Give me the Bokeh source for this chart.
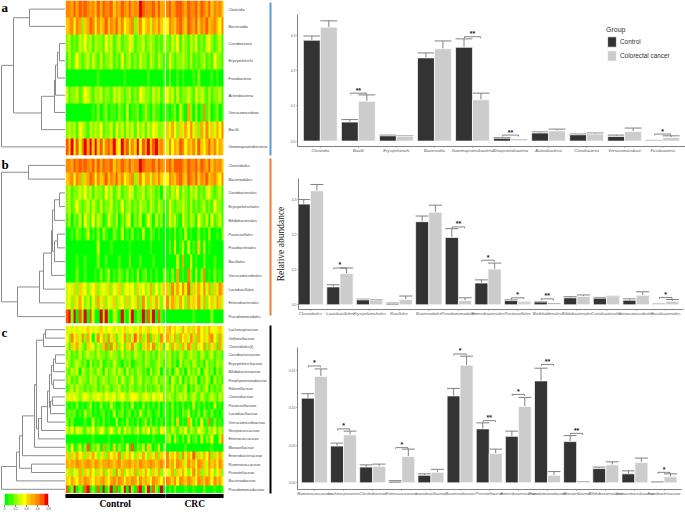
from bokeh.plotting import figure
from bokeh.layouts import row, column
from bokeh.models import Range1d, FixedTicker, Label, LinearColorMapper, Legend, LegendItem
from bokeh.core.properties import value
from bokeh.embed import file_html
from bokeh.resources import INLINE
import numpy as np

# ---------- heat map data (cell levels 0-9, Control | CRC) ----------
class_rows = ["Clostridia","Bacteroidia","Coriobacteria","Erysipelotrichi","Fusobacteria","Actinobacteria","Verrucomicrobiae","Bacilli","Gammaproteobacteria"]
class_heat = [
"7768687876 7586877857 6876867698 77786866 | 7867887687 7868768576 75",
"5674762568 7475685768 5745672574 56365754 | 4765786587 6857685675 47",
"2312132423 1322142312 3122431223 12321213 | 2132413213 2412134212 31",
"1312421231 3213122312 1412312132 21321321 | 1421223213 1212312142 21",
"0000000000 0010000000 0010000000 01000001 | 0200101000 1020000101 00",
"3122312432 1323122132 3212312143 22132312 | 4231312232 1423213122 31",
"0000000000 1020120110 2103011201 31021101 | 1012031062 0301713012 01",
"2323143213 2324122314 2313231423 13243223 | 5364253647 3526473536 47",
"8594837969 5958378695 4968375948 69589675 | 3746587465 7385468574 65",
]
order_rows = ["Clostridiales","Bacteroidales","Coriobacteriales","Erysipelotrichales","Bifidobacteriales","Pasteurellales","Fusobacteriales","Bacillales","Verrucomicrobiales","Lactobacillales","Enterobacteriales","Pseudomonadales"]
order_heat = [
"7768787876 8586877857 6876867798 77786876 | 7868887687 7868768576 75",
"5674762568 7475685768 5745672574 66365754 | 4765786587 6857685675 47",
"2312232423 1322142312 3122431223 12321203 | 2132413213 2412134212 31",
"2312421231 3213122312 1412312132 21321321 | 1421223213 1212312142 21",
"1302130421 4132014213 0213402130 14203120 | 1423104213 2042130412 31",
"0010210130 1020310021 0301020103 00210100 | 0102010301 0020103001 02",
"0000000000 0030000100 0000100000 00100000 | 0204013030 1050301000 00",
"0000100100 0020010000 1000200010 00010000 | 0000306004 0100200010 00",
"0000200100 0102013010 2102010301 20101002 | 1020601072 0302701020 10",
"3435253423 4523435243 5234342534 23624235 | 5273647382 5364736253 75",
"3425364231 4263524352 3425243627 42536324 | 7365364263 5473624536 53",
"8929082908 3009291032 0910390219 08290810 | 0000000000 1000000200 00",
]
family_rows = ["Lachnospiraceae","Veillonellaceae","Clostridiales(t)","Coriobacteriaceae","Erysipelotrichaceae","Bifidobacteriaceae","Porphyromonadaceae","Rikenellaceae","Clostridiaceae","Pasteurellaceae","Lactobacillaceae","Verrucomicrobiaceae","Streptococcaceae","Enterococcaceae","Moraxellaceae","Enterobacteriaceae","Ruminococcaceae","Prevotellaceae","Bacteroidaceae","Pseudomonadaceae"]
family_heat = [
"3434343454 3435434434 3453443454 35344543 | 5645436453 5464536443 54",
"4274537264 0374627351 3472638462 37153274 | 6536264537 5264536742 63",
"3153632153 4132571736 2415373215 36472351 | 4263526375 2634726351 63",
"2312131232 2132212322 1312213221 32121322 | 2312132123 2213212312 21",
"3212321203 1213012132 1021301221 32112321 | 2312031221 3212031213 22",
"2132303213 2132031231 3203121321 20312302 | 1302312031 2130231203 12",
"2312132213 2312321223 1321231231 22123122 | 2032130213 2302132031 21",
"1231322121 2312132122 3121321221 31212312 | 2131212302 1321230212 13",
"3434323432 3343243342 3432344323 43243342 | 2321232312 3213212321 32",
"1010201013 0102010310 0201030102 01010201 | 1020102010 3010201030 10",
"1212010312 0101201030 1201201031 02101201 | 1020102130 1020310201 01",
"2020000100 3010201003 0102010201 30201010 | 1020501063 0204017020 10",
"3241432132 4124312421 3142312413 24132143 | 2132132413 2143213241 32",
"0000000000 1000001000 0100000100 00010000 | 2303102030 1203021400 37",
"2040130280 2130612050 2104080213 05201302 | 0000000100 0000000100 00",
"5253645253 6423526453 7253642536 42536254 | 7354627364 8253647253 63",
"6565765676 5765667656 7566756576 56765675 | 7564765375 6476537564 75",
"3524362536 4253624527 3624536253 64253624 | 4362536424 7362536424 52",
"5465465765 4656754675 7646576475 65476546 | 7657476576 5476576475 64",
"8029020890 2080902908 0390920890 39082090 | 0102000100 1000200010 01",
]
heat_palette = ["#00ff00","#44ff00","#88ff00","#ccff00","#ffff00","#ffcc00","#ffa800","#ff8800","#ff5a00","#ee0000"]
colorbar_ticks = [0, 0.2, 0.4, 0.6, 0.8]
group_names = ["Control", "CRC"]

# ---------- dendrograms: (merge height, child, child), leaves are row indices ----------
class_tree = (64,(52,(36,0,1),(24,(11,(10,(8,(6,2,3),4),5),6),7)),8)
order_tree = (64,(37,0,1),(48,(26,(22,(14,(13,(11,(6,2,3),4),(11,(8,5,6),7)),8),9),10),11))
family_tree = (64,(49,(46,(43,(31,(29,(22,(20,0,1),2),(27,(24,(18,(16,(14,(12,(10,3,4),5),(12,6,7)),(15,(13,8,9),10)),11),12),13)),14),15),(34,16,17)),18),19)

# ---------- bar data ----------
class_names = ["Clostridia","Bacilli","Erysipelotrichi","Bacteroidia","Gammaproteobacteria","Betaproteobacteria","Actinobacteria","Coriobacteria","Verrucomicrobiae","Fusobacteria"]
class_ctrl = [.286,.054,.015,.236,.266,.008,.023,.018,.013,.001]
class_ctrl_err = [.298,.061,.017,.250,.290,.010,.026,.020,.017,.002]
class_crc = [.323,.113,.014,.262,.117,.002,.029,.020,.027,.010]
class_crc_err = [.341,.131,.015,.284,.136,.003,.034,.023,.037,.015]
class_sig = [(2,"**",.136),(5,"**",.296),(6,"**",.017),(10,"*",.020)]

order_names = ["Clostridiales","Lactobacillales","Erysipelotrichales","Bacillales","Bacteroidales","Pseudomonadales","Enterobacteriales","Pasteurellales","Burkholderiales","Bifidobacteriales","Coriobacteriales","Verrucomicrobiales","Fusobacteriales"]
order_ctrl = [.287,.051,.014,.004,.237,.192,.062,.012,.008,.020,.019,.013,.001]
order_ctrl_err = [.300,.057,.016,.005,.253,.217,.071,.014,.009,.023,.021,.017,.002]
order_crc = [.325,.089,.014,.015,.264,.012,.102,.006,.002,.024,.023,.027,.010]
order_crc_err = [.343,.105,.015,.025,.284,.020,.119,.007,.003,.028,.024,.037,.015]
order_sig = [(2,"*",.105),(6,"**",.222),(7,"*",.127),(8,"*",.020),(9,"**",.017),(13,"*",.021)]

family_names = ["Ruminococcaceae","Lachnospiraceae","Clostridiaceae","Enterococcaceae","Lactobacillaceae","Bacteroidaceae","Prevotellaceae","Enterobacteriaceae","Pseudomonadaceae","Moraxellaceae","Bifidobacteriaceae","Verrucomicrobiaceae","Fusobacteriaceae"]
family_ctrl = [.113,.049,.021,.002,.010,.116,.072,.062,.136,.055,.019,.012,.001]
family_ctrl_err = [.119,.053,.024,.003,.012,.126,.080,.069,.153,.063,.021,.016,.0015]
family_crc = [.142,.064,.022,.035,.014,.157,.039,.102,.010,.001,.024,.027,.008]
family_crc_err = [.152,.069,.025,.045,.018,.169,.045,.114,.015,.0015,.028,.033,.012]
family_sig = [(1,"*",.156),(2,"*",.072),(4,"*",.047),(6,"*",.172),(7,"**",.083),(8,"*",.118),(9,"**",.158),(10,"**",.066),(13,"*",.014)]

legend_title = "Group"
legend_labels = ["Control", "Colorectal cancer"]
footnote = "p<0.05*, p<0.01**"

CTRL, CRC = "#333333", "#cccccc"
AXIS = "#808080"
SERIF = "Liberation Serif"
SANS = "Liberation Sans"

mapper = LinearColorMapper(palette=heat_palette, low=-0.5, high=9.5)


def cells(strings):
    ctrl, crc = [], []
    for s in strings:
        a, b = s.split("|")
        ctrl.append([int(c) for c in a.replace(" ", "")])
        crc.append([int(c) for c in b.replace(" ", "")])
    return np.array(ctrl[::-1], dtype=float), np.array(crc[::-1], dtype=float)


def base(w, h, top=0, bottom=0, left=0, right=0, **kw):
    p = figure(width=w, height=h, toolbar_location=None, output_backend="svg",
               min_border_top=top, min_border_bottom=bottom, min_border_left=left,
               min_border_right=right, frame_align=False, **kw)
    p.outline_line_color = None
    p.grid.visible = False
    return p


def heat(names, strings, h, top, bottom):
    n = len(names)
    ctrl, crc = cells(strings)
    nc, nr = ctrl.shape[1], crc.shape[1]
    gap = 0.38
    unit = (nc + nr + gap) / 158  # columns per pixel
    p = base(203, h, top, bottom, x_range=Range1d(0, 203 * unit), y_range=Range1d(0, n),
             x_axis_type=None, y_axis_type=None)
    p.image(image=[ctrl], x=0, y=0, dw=nc, dh=n, color_mapper=mapper)
    p.image(image=[crc], x=nc + gap, y=0, dw=nr, dh=n, color_mapper=mapper)
    p.text(x=[nc + nr + gap + 5 * unit] * n, y=[n - i - 0.5 for i in range(n)], text=names,
           text_font=value(SANS), text_font_size="3.9px", text_color="#444444",
           text_align="left", text_baseline="middle")
    return p


def dendro(tree, n, h, top, bottom, letter, letter_y):
    xs, ys = [], []

    def walk(node):
        if isinstance(node, int):
            return n - node - 0.5, 0
        y1, h1 = walk(node[1])
        y2, h2 = walk(node[2])
        xs.append([h1, node[0], node[0], h2])
        ys.append([y1, y1, y2, y2])
        return (y1 + y2) / 2, node[0]

    walk(tree)
    p = base(65, h, top, bottom, x_range=Range1d(65, 0), y_range=Range1d(0, n),
             x_axis_type=None, y_axis_type=None)
    p.multi_line(xs, ys, line_color="#8c8c8c", line_width=1)
    p.text(x=[64], y=[letter_y], text=[letter], text_font=value(SERIF), text_font_style="bold",
           text_font_size="13px", text_baseline="middle", text_align="left", text_color="black")
    return p


def rule(h, top, bottom, color):
    p = base(4, h, top, bottom, 1, 1, x_range=Range1d(0, 1), y_range=Range1d(0, 1),
             x_axis_type=None, y_axis_type=None, background_fill_color=color)
    return p


def bars(names, ctrl, ctrl_err, crc, crc_err, sig, h, top, bottom, right, xr, yr, yticks, fmt, drop, title, title_xy):
    x = np.arange(1, len(names) + 1, dtype=float)
    bw = 0.445
    p = base(413, h, top, bottom, 25, right, x_range=Range1d(*xr), y_range=Range1d(*yr))
    for off, v, e in ((-bw / 2, ctrl, ctrl_err), (bw / 2, crc, crc_err)):
        xx = x + off
        p.segment(xx, v, xx, e, line_color=AXIS, line_width=1)
        p.segment(xx - bw / 2, e, xx + bw / 2, e, line_color=AXIS, line_width=1)
    r1 = p.vbar(x - bw / 2, bw, ctrl, 0, fill_color=CTRL, line_color="white", line_width=0.7)
    r2 = p.vbar(x + bw / 2, bw, crc, 0, fill_color=CRC, line_color="white", line_width=0.7)
    bx, by, sx, sy, st = [], [], [], [], []
    for i, s, lv in sig:
        bx.append([i - 0.21, i - 0.21, i + 0.21, i + 0.21])
        by.append([lv - drop, lv, lv, lv - drop])
        sx.append(i); sy.append(lv); st.append(s)
    p.multi_line(bx, by, line_color="#666666", line_width=0.8)
    p.text(sx, sy, st, text_font_size="7px", text_font_style="bold", text_color="#222222",
           text_align="center", text_baseline="middle", y_offset=-3)
    xa, ya = p.xaxis[0], p.yaxis[0]
    xa.ticker = FixedTicker(ticks=list(x))
    xa.major_label_overrides = {float(v): n for v, n in zip(x, names)}
    xa.major_label_text_font = SANS
    xa.major_label_text_font_style = "italic"
    xa.major_label_text_font_size = "4.2px"
    xa.major_label_text_color = "#555555"
    xa.major_label_standoff = 0
    ya.ticker = FixedTicker(ticks=yticks)
    ya.major_label_overrides = {v: fmt % v for v in yticks}
    ya.major_label_text_font_size = "3.5px"
    ya.major_label_text_font = SANS
    ya.major_label_text_color = "#666666"
    ya.major_label_standoff = 1
    for a in (xa, ya):
        a.axis_line_color = AXIS
        a.major_tick_line_color = AXIS
        a.major_tick_out = 1
        a.major_tick_in = 0
        a.minor_tick_line_color = None
    p.add_layout(Label(x=title_xy[0], y=title_xy[1], text=title, text_font=SERIF, text_font_style="bold",
                       text_font_size="9.5px", text_color="black", text_baseline="middle"))
    return p, r1, r2


# ---------- band a ----------
pa, ra1, ra2 = bars(class_names, class_ctrl, class_ctrl_err, class_crc, class_crc_err, class_sig,
                    157, 14, 11, 0, (0.4, 10.6), (-.0153, .359), [0, .1, .2, .3], "%.1f", .004,
                    "Class", (-0.18, .384))
leg = Legend(items=[LegendItem(label=legend_labels[0], renderers=[ra1]),
                    LegendItem(label=legend_labels[1], renderers=[ra2])],
             title=legend_title, location=(309, 84), border_line_color=None, background_fill_alpha=0,
             padding=0, margin=0, spacing=1, glyph_width=11, glyph_height=13, label_width=30,
             label_standoff=3, label_text_font_size="6.4px", label_text_font=SANS, label_text_color="#333333",
             title_text_font_size="7px", title_text_font=SANS, title_text_font_style="normal",
             title_text_color="#333333", title_standoff=2, label_height=13)
pa.add_layout(leg)
band_a = row(dendro(class_tree, 9, 157, 0, 2, "a", 8.6),
             heat(class_rows, class_heat, 157, 0, 2),
             rule(157, 2, 2, "#5b9bd5"), pa, spacing=0)

# ---------- band b ----------
pb, _, _ = bars(order_names, order_ctrl, order_ctrl_err, order_crc, order_crc_err, order_sig,
                167, 21, 15, 2, (0.6, 13.6), (-.0134, .36), [0, .1, .2, .3], "%.1f", .004,
                "Order", (-0.17, .401))
pb.yaxis[0].axis_label = "Relative abundance"
pb.yaxis[0].axis_label_text_font = SERIF
pb.yaxis[0].axis_label_text_font_size = "9.5px"
pb.yaxis[0].axis_label_text_font_style = "normal"
pb.yaxis[0].axis_label_text_color = "#222222"
pb.yaxis[0].axis_label_standoff = 3
band_b = row(dendro(order_tree, 12, 167, 1, 1, "b", 11.56),
             heat(order_rows, order_heat, 167, 1, 1),
             rule(167, 1, 9, "#ed7d31"), pb, spacing=0)

# ---------- band c ----------
pc, _, _ = bars(family_names, family_ctrl, family_ctrl_err, family_crc, family_crc_err, family_sig,
                188, 23, 23, 4, (0.42, 13.6), (-.0089, .1806), [0, .05, .10, .15], "%.2f", .002,
                "Family", (-0.384, .2028))
pc.add_layout(Label(x=13.5, y=-.0316, text=footnote, text_font=SANS, text_font_size="7px",
                    text_color="#333333", text_align="right", text_baseline="middle"))

cb = base(65, 19, 0, 7, 4, 17, x_range=Range1d(0, .8), y_range=Range1d(0, 1), y_axis_type=None)
cb.image(image=[np.arange(10, dtype=float).reshape(1, 10)], x=0, y=0, dw=.8, dh=1, color_mapper=mapper)
cb.xaxis[0].ticker = FixedTicker(ticks=colorbar_ticks)
cb.xaxis[0].major_label_overrides = {0: "0", .2: "0.2", .4: "0.4", .6: "0.6", .8: "0.8"}
cb.xaxis[0].major_label_text_font_size = "3px"
cb.xaxis[0].major_label_standoff = 0
cb.xaxis[0].major_tick_out = 1
cb.xaxis[0].major_tick_in = 0
cb.xaxis[0].axis_line_color = None

n_ctrl = len(family_heat[0].split("|")[0].replace(" ", ""))
n_crc = len(family_heat[0].split("|")[1].replace(" ", ""))
gp = base(203, 19, 0, 0, 0, 45, x_range=Range1d(0, n_ctrl + n_crc + .38), y_range=Range1d(0, 19),
          x_axis_type=None, y_axis_type=None)
gp.quad(left=[0, n_ctrl + .38], right=[n_ctrl, n_ctrl + n_crc + .38], top=[18, 18], bottom=[15, 15], color="black")
gp.text([n_ctrl * .5, n_ctrl + .38 + n_crc * .5], [9, 9], group_names, text_font=value(SERIF),
        text_font_style="bold", text_font_size="9.5px", text_align="center", text_baseline="middle", text_color="black")

left_col = column(dendro(family_tree, 20, 169, 1, 0, "c", 19.17), cb, spacing=0)
mid_col = column(heat(family_rows, family_heat, 169, 1, 0), gp, spacing=0)
band_c = row(left_col, mid_col, rule(188, 1, 19, "#000000"), pc, spacing=0)

root = column(band_a, band_b, band_c, spacing=0)
open("out.html", "w").write(file_html(root, INLINE))
